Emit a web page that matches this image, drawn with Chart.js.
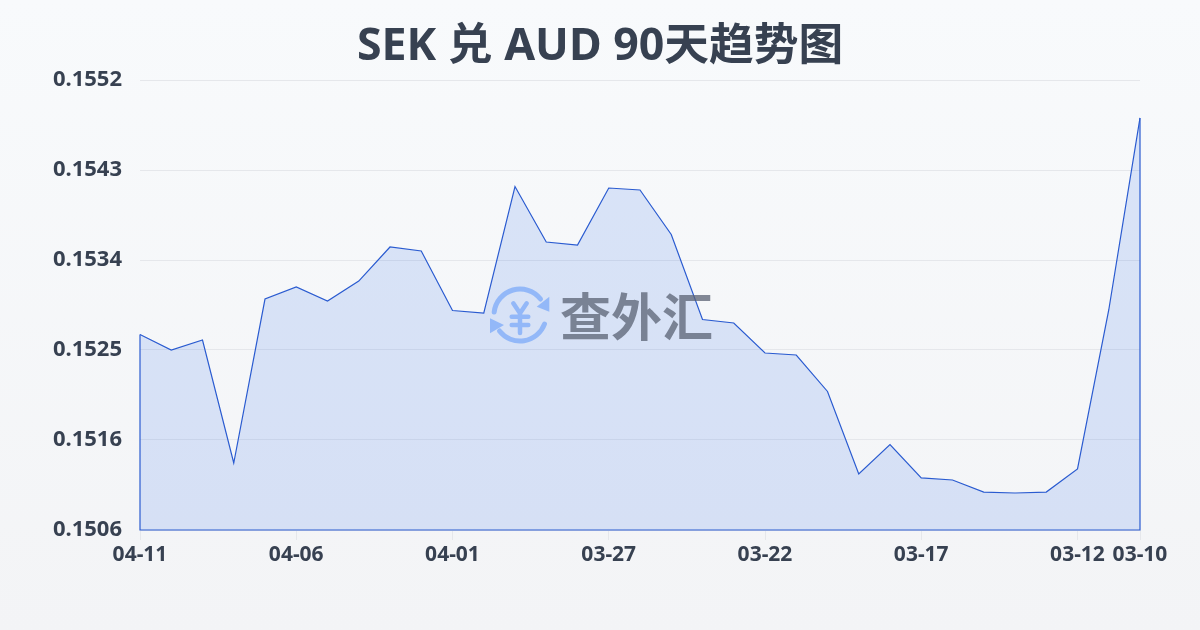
<!DOCTYPE html>
<html lang="zh">
<head>
    <meta charset="UTF-8">
    <title>SEK 兑 AUD 90天趋势图</title>
    <style>
        html, body {
            margin: 0;
            padding: 0;
            width: 1200px;
            height: 630px;
            overflow: hidden;
            background: linear-gradient(180deg, #f8fafc 0%, #f3f4f6 100%);
        }
        #wrap { position: relative; width: 1200px; height: 630px; }
        canvas { position: absolute; left: 0; top: 0; }
        .logo { position: absolute; left: 490px; top: 285px; width: 60px; height: 60px; }
        .logo-text {
            position: absolute;
            left: 560px;
            top: 284px;
            font: 700 51px/60px "Noto Sans CJK SC", sans-serif;
            color: rgba(90, 98, 115, 0.75);
            white-space: nowrap;
        }
    </style>
    <script src="https://cdn.jsdelivr.net/npm/chart.js"></script>
</head>
<body>
    <div id="wrap">
        <canvas id="trend" width="1200" height="630"></canvas>
        <svg class="logo" viewBox="0 0 60 60" fill="none" stroke="#93b8f8" stroke-width="5" stroke-linecap="round" stroke-linejoin="round">
            <path d="M4.2 27 A26 26 0 0 1 50.5 14"/>
            <path d="M54.5 39 A26 26 0 0 1 9.5 46"/>
            <path d="M59.3 11.7 L59.3 26.7 L46.7 21.7 Z" fill="#93b8f8" stroke="none"/>
            <path d="M0 33.3 L0 48.3 L14 40 Z" fill="#93b8f8" stroke="none"/>
            <path d="M23.3 18.3 L30 28.3 L36.7 18.3 M30 28.3 L30 48 M21.7 31.7 L38.3 31.7 M21.7 40 L38.3 40" stroke-width="4.5"/>
        </svg>
        <div class="logo-text">查外汇</div>
    </div>
    <script>
        const titleText = 'SEK 兑 AUD 90天趋势图';
        const dates = ['04-11', '04-10', '04-09', '04-08', '04-07', '04-06', '04-05', '04-04', '04-03', '04-02', '04-01',
            '03-31', '03-30', '03-29', '03-28', '03-27', '03-26', '03-25', '03-24', '03-23', '03-22',
            '03-21', '03-20', '03-19', '03-18', '03-17', '03-16', '03-15', '03-14', '03-13', '03-12', '03-11', '03-10'];
        const rates = [0.152638, 0.15248, 0.152582, 0.151325, 0.153001, 0.153124, 0.152981, 0.153185, 0.153533, 0.153492, 0.152884,
            0.152858, 0.154151, 0.153584, 0.153553, 0.154136, 0.154116, 0.153661, 0.152792, 0.152756, 0.152449,
            0.152429, 0.152056, 0.151212, 0.151514, 0.151172, 0.151151, 0.151028, 0.151018, 0.151028, 0.151264, 0.152889, 0.154852];
        const shownDates = ['04-11', '04-06', '04-01', '03-27', '03-22', '03-17', '03-12', '03-10'];
        const yMin = 0.15064;
        const yMax = 0.15524;
        const yStep = 0.00092;

        const textColor = '#374151';
        const gridColor = '#e5e7eb';
        const lineColor = '#2a5bd0';

        // closes the area outline: down the first point, along the base, up the last point
        const areaEdge = {
            id: 'areaEdge',
            afterDatasetsDraw(chart) {
                const pts = chart.getDatasetMeta(0).data;
                const first = pts[0];
                const last = pts[pts.length - 1];
                const base = chart.scales.y.bottom;
                const ctx = chart.ctx;
                ctx.save();
                ctx.strokeStyle = lineColor;
                ctx.lineWidth = 1.2;
                ctx.beginPath();
                ctx.moveTo(first.x, first.y);
                ctx.lineTo(first.x, base);
                ctx.lineTo(last.x, base);
                ctx.lineTo(last.x, last.y);
                ctx.stroke();
                ctx.restore();
            }
        };

        new Chart(document.getElementById('trend'), {
            type: 'line',
            plugins: [areaEdge],
            data: {
                labels: dates,
                datasets: [{
                    data: rates,
                    borderColor: lineColor,
                    borderWidth: 1.2,
                    backgroundColor: 'rgba(37, 99, 235, 0.14)',
                    fill: 'start',
                    pointRadius: 0,
                    tension: 0
                }]
            },
            options: {
                responsive: false,
                animation: false,
                plugins: {
                    legend: { display: false },
                    tooltip: { enabled: false },
                    title: {
                        display: true,
                        text: titleText,
                        color: textColor,
                        font: { family: '"Noto Sans", "Noto Sans CJK SC", sans-serif', size: 44.7, weight: 'bold', lineHeight: 1.2 },
                        padding: { top: 20.4, bottom: 5.96 }
                    }
                },
                scales: {
                    x: {
                        offset: false,
                        border: { display: false },
                        grid: { drawOnChartArea: false, drawTicks: true, tickLength: 10, tickColor: gridColor },
                        afterBuildTicks(scale) {
                            scale.ticks = scale.ticks.filter(t => shownDates.includes(dates[t.value]));
                        },
                        afterFit(scale) { scale.height = 100; },
                        ticks: {
                            autoSkip: false,
                            maxRotation: 0,
                            padding: 2,
                            color: textColor,
                            font: { family: '"Noto Sans", sans-serif', size: 21, weight: 'bold' }
                        }
                    },
                    y: {
                        min: yMin,
                        max: yMax,
                        border: { display: false },
                        grid: { color: gridColor, lineWidth: 1, drawTicks: false },
                        afterFit(scale) { scale.width = 140; },
                        ticks: {
                            stepSize: yStep,
                            padding: 18,
                            color: textColor,
                            font: { family: '"Noto Sans", sans-serif', size: 22, weight: 'bold' },
                            callback: v => v.toFixed(4)
                        }
                    },
                    // empty axis on the right, only keeps the plot margin so the title stays centred on the page
                    rightMargin: {
                        axis: 'y',
                        position: 'right',
                        min: yMin,
                        max: yMax,
                        border: { display: false },
                        grid: { display: false, drawTicks: false },
                        ticks: { display: false },
                        afterFit(scale) { scale.width = 60; }
                    }
                }
            }
        });
    </script>
</body>
</html>
